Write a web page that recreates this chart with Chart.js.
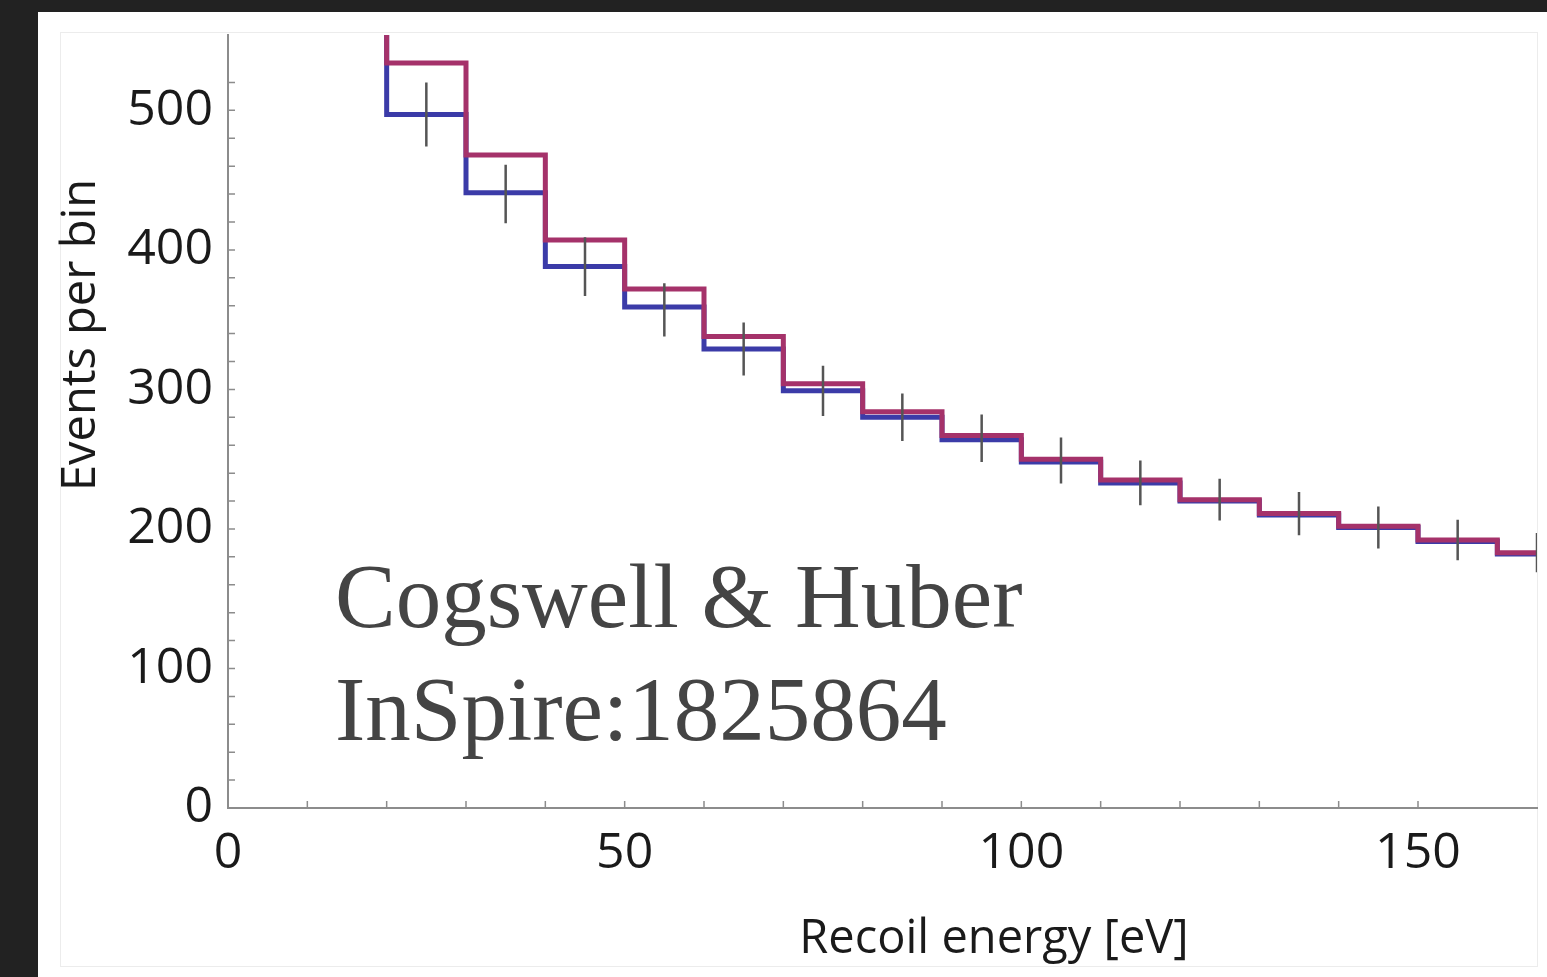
<!DOCTYPE html>
<html>
<head>
<meta charset="utf-8">
<title>Events per bin vs recoil energy</title>
<script src="https://cdn.jsdelivr.net/npm/chart.js@4.4.1/dist/chart.umd.min.js"></script>
<style>
    html, body {
        margin: 0;
        padding: 0;
        background: #222222;
        width: 1547px;
        height: 977px;
        overflow: hidden;
    }
    #sheet {
        position: absolute;
        left: 38px;
        top: 12px;
        width: 1509px;
        height: 965px;
        background: #ffffff;
    }
    #frame {
        position: absolute;
        left: 22px;
        top: 20px;
        width: 1476px;
        height: 933px;
        border: 1.5px solid #ececec;
    }
    #histChart {
        position: absolute;
        left: 0;
        top: 0;
    }
</style>
</head>
<body>
<div id="sheet">
    <div id="frame"></div>
    <canvas id="histChart" width="1509" height="965"></canvas>
</div>

<script>
        // Bin edges [eV] - each value is the left edge, last one closes the final bin
        const binEdges = [10, 20, 30, 40, 50, 60, 70, 80, 90, 100, 110, 120, 130, 140, 150, 160, 170];

        // Step histograms (first bin runs off the top of the plot)
        const redCounts = [620, 534, 468, 407, 372, 338, 304, 284, 267, 250, 235, 221, 211, 202, 192, 183];
        const blueCounts = [600, 497, 441, 388, 359, 329, 299, 280, 264, 248, 233, 220, 210, 201, 191, 182];

        // Measured points with vertical error bars
        const pointCenters = [25, 35, 45, 55, 65, 75, 85, 95, 105, 115, 125, 135, 145, 155, 165];
        const pointValues = [497, 440, 388, 357, 329, 299, 280, 265, 249, 233, 221, 211, 201, 192, 183];
        const pointErrors = [23, 21, 21, 19, 19, 18, 17, 17, 16.5, 16, 15, 15.5, 15, 14.5, 14];

        // Axis ticks
        const xLabelTicks = [0, 50, 100, 150];
        const yLabelTicks = [0, 100, 200, 300, 400, 500];

        const axisGray = '#8c8c8c';
        const labelFont = '"Open Sans", "DejaVu Sans", sans-serif';

        function stepData(counts) {
            const pts = counts.map((c, i) => ({ x: binEdges[i], y: c }));
            pts.push({ x: binEdges[binEdges.length - 1], y: counts[counts.length - 1] });
            return pts;
        }

        function errorBarData() {
            const pts = [];
            pointCenters.forEach((c, i) => {
                pts.push({ x: c, y: pointValues[i] - pointErrors[i] });
                pts.push({ x: c, y: pointValues[i] + pointErrors[i] });
                pts.push({ x: c, y: null });
            });
            return pts;
        }

        // no extra label padding, the plot area is fixed
        function noPadding(scale) {
            scale.paddingTop = 0;
            scale.paddingBottom = 0;
            scale.paddingLeft = 0;
            scale.paddingRight = 0;
        }

        // Inward tick marks, axis titles and the annotation
        const decorPlugin = {
            id: 'decor',
            beforeDatasetsDraw(chart) {
                const { ctx, chartArea, scales } = chart;
                ctx.save();
                ctx.strokeStyle = axisGray;
                ctx.lineWidth = 1.5;
                ctx.beginPath();
                scales.x.ticks.forEach(t => {
                    if (t.value > 0 && t.value % 10 === 0) {
                        const px = scales.x.getPixelForValue(t.value);
                        ctx.moveTo(px, chartArea.bottom);
                        ctx.lineTo(px, chartArea.bottom - 7);
                    }
                });
                scales.y.ticks.forEach(t => {
                    if (t.value > 0 && t.value % 20 === 0) {
                        const py = scales.y.getPixelForValue(t.value);
                        ctx.moveTo(chartArea.left, py);
                        ctx.lineTo(chartArea.left + 7, py);
                    }
                });
                ctx.stroke();
                ctx.restore();
            },
            afterDraw(chart) {
                const { ctx, chartArea } = chart;
                ctx.save();

                // x title
                ctx.fillStyle = '#1a1a1a';
                ctx.font = '47px ' + labelFont;
                ctx.textAlign = 'center';
                ctx.textBaseline = 'alphabetic';
                ctx.fillText('Recoil energy [eV]', chartArea.left + 766, 941);

                // y title
                ctx.save();
                ctx.translate(57, 323);
                ctx.rotate(-Math.PI / 2);
                ctx.fillText('Events per bin', 0, 0);
                ctx.restore();

                // annotation
                ctx.fillStyle = '#444444';
                ctx.font = '91px "Liberation Serif", "DejaVu Serif", serif';
                ctx.textAlign = 'left';
                ctx.fillText('Cogswell & Huber', 297, 615);
                ctx.fillText('InSpire:1825864', 297, 728);
                ctx.restore();
            }
        };

        // dataset 0 is drawn on top
        const ctx = document.getElementById('histChart').getContext('2d');
        const histChart = new Chart(ctx, {
            type: 'line',
            data: {
                datasets: [{
                    label: 'Data',
                    data: errorBarData(),
                    borderColor: '#555555',
                    borderWidth: 2.5,
                    spanGaps: false,
                    pointRadius: 0,
                    fill: false
                }, {
                    label: 'Red',
                    data: stepData(redCounts),
                    borderColor: '#a5326a',
                    borderWidth: 5,
                    stepped: 'before',
                    pointRadius: 0,
                    fill: false
                }, {
                    label: 'Blue',
                    data: stepData(blueCounts),
                    borderColor: '#3b3ba8',
                    borderWidth: 5,
                    stepped: 'before',
                    pointRadius: 0,
                    fill: false
                }]
            },
            options: {
                responsive: false,
                animation: false,
                devicePixelRatio: 1,
                layout: {
                    padding: { left: 0, top: 23, right: 10, bottom: 0 }
                },
                plugins: {
                    legend: { display: false },
                    tooltip: { enabled: false }
                },
                scales: {
                    x: {
                        type: 'linear',
                        min: 0,
                        max: 165,
                        afterFit: function(scale) {
                            scale.height = 169;
                            noPadding(scale);
                        },
                        grid: { display: false, drawTicks: false },
                        border: { display: true, color: axisGray, width: 2 },
                        ticks: {
                            stepSize: 10,
                            autoSkip: false,
                            maxRotation: 0,
                            padding: 16,
                            color: '#1a1a1a',
                            font: { family: labelFont, size: 50 },
                            callback: function(value) {
                                return xLabelTicks.includes(value) ? String(value) : '';
                            }
                        }
                    },
                    y: {
                        min: 0,
                        max: 554,
                        afterFit: function(scale) {
                            scale.width = 190;
                            noPadding(scale);
                        },
                        grid: { display: false, drawTicks: false },
                        border: { display: true, color: axisGray, width: 2 },
                        ticks: {
                            stepSize: 20,
                            autoSkip: false,
                            padding: 15,
                            color: '#1a1a1a',
                            font: { family: labelFont, size: 50 },
                            callback: function(value) {
                                return yLabelTicks.includes(value) ? String(value) : '';
                            }
                        }
                    }
                }
            },
            plugins: [decorPlugin]
        });
</script>
</body>
</html>
